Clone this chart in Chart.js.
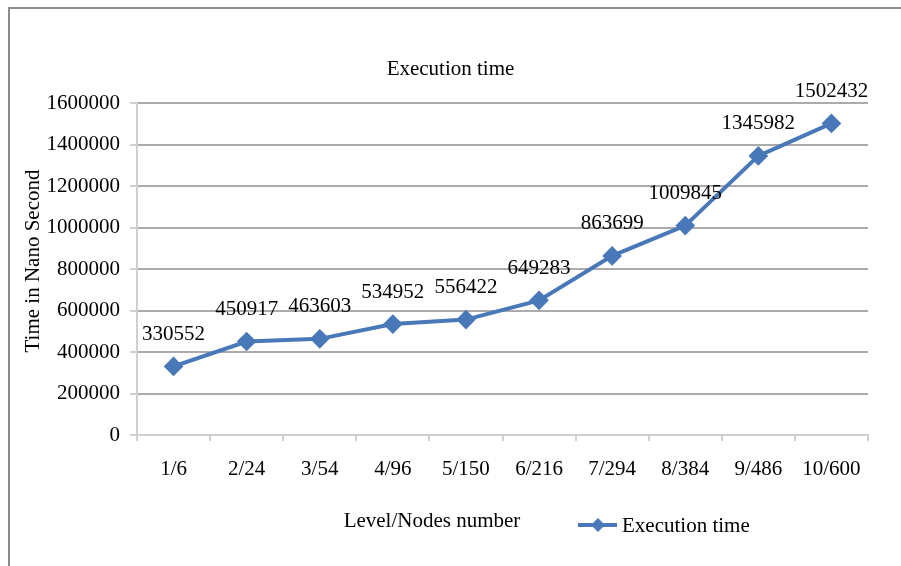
<!DOCTYPE html>
<html>
<head>
<meta charset="utf-8">
<title>Execution time</title>
<script src="https://cdn.jsdelivr.net/npm/chart.js@4.4.1/dist/chart.umd.min.js"></script>
<style>
    html, body { margin: 0; padding: 0; background: #fff; }
    #wrap { position: relative; width: 901px; height: 566px; }
    #frame {
        position: absolute; left: 8px; top: 7px; right: 0; bottom: 0;
        border-left: 2px solid #8c8c8c; border-top: 2px solid #8c8c8c;
        pointer-events: none;
    }
    canvas { position: absolute; left: 0; top: 0; }
</style>
</head>
<body>
<div id="wrap">
    <canvas id="execChart" width="901" height="566"></canvas>
    <div id="frame"></div>
</div>
<script>
// Level/Nodes categories for x-axis
const levelLabels = ['1/6', '2/24', '3/54', '4/96', '5/150', '6/216', '7/294', '8/384', '9/486', '10/600'];

// Execution time in nano seconds
const execTimes = [330552, 450917, 463603, 534952, 556422, 649283, 863699, 1009845, 1345982, 1502432];

// y-axis tick values
const yTicks = [0, 200000, 400000, 600000, 800000, 1000000, 1200000, 1400000, 1600000];

const seriesName = 'Execution time';
const lineColor = '#4878b8';
const serif = '"Liberation Serif", "Times New Roman", serif';

document.addEventListener("DOMContentLoaded", function () {
    const ctx = document.getElementById("execChart").getContext("2d");

    Chart.defaults.font.family = serif;
    Chart.defaults.font.size = 21;
    Chart.defaults.color = '#000';

    // value labels above each point, plus axis titles and legend drawn in Excel style
    const extrasPlugin = {
        id: 'extras',
        afterDatasetsDraw(chart) {
            const c = chart.ctx;
            const meta = chart.getDatasetMeta(0);
            c.save();
            c.font = '21px ' + serif;
            c.fillStyle = '#000';
            c.textAlign = 'center';
            c.textBaseline = 'middle';
            meta.data.forEach((pt, i) => {
                c.fillText(String(chart.data.datasets[0].data[i]), pt.x, pt.y - 32);
            });
            c.restore();
        },
        afterDraw(chart) {
            const c = chart.ctx;
            c.save();
            c.font = '21px ' + serif;
            c.fillStyle = '#000';
            c.textBaseline = 'middle';

            // x-axis title
            c.textAlign = 'center';
            c.fillText('Level/Nodes number', 432, 521);

            // y-axis title
            c.save();
            c.translate(33, 261);
            c.rotate(-Math.PI / 2);
            c.fillText('Time in Nano Second', 0, 0);
            c.restore();

            // legend
            const ds = chart.data.datasets[0];
            c.strokeStyle = ds.borderColor;
            c.lineWidth = 4;
            c.beginPath();
            c.moveTo(578, 525);
            c.lineTo(617, 525);
            c.stroke();
            c.fillStyle = ds.pointBackgroundColor;
            c.beginPath();
            c.moveTo(598, 518);
            c.lineTo(605, 525);
            c.lineTo(598, 532);
            c.lineTo(591, 525);
            c.closePath();
            c.fill();
            c.fillStyle = '#000';
            c.textAlign = 'left';
            c.fillText(ds.label, 622, 526);
            c.restore();
        }
    };

    new Chart(ctx, {
        type: 'line',
        data: {
            labels: levelLabels,
            datasets: [{
                label: seriesName,
                data: execTimes,
                borderColor: lineColor,
                backgroundColor: lineColor,
                pointBackgroundColor: lineColor,
                pointBorderColor: lineColor,
                borderWidth: 4,
                pointStyle: 'rectRot',
                pointRadius: 7,
                pointHoverRadius: 7,
                tension: 0,
                fill: false
            }]
        },
        options: {
            responsive: false,
            animation: false,
            layout: { padding: 0 },
            plugins: {
                legend: { display: false },
                tooltip: { enabled: false },
                title: {
                    display: true,
                    text: 'Execution time',
                    color: '#000',
                    font: { size: 21, weight: 'normal' },
                    padding: { top: 57, bottom: 21 }
                }
            },
            scales: {
                x: {
                    offset: true,
                    grid: {
                        display: true,
                        offset: true,
                        drawOnChartArea: false,
                        drawTicks: true,
                        tickLength: 6,
                        tickColor: '#d0d0d0',
                        lineWidth: 2
                    },
                    border: { display: true, color: '#d0d0d0', width: 2 },
                    ticks: { padding: 16, maxRotation: 0, autoSkip: false },
                    afterFit: s => { s.height = 131; }
                },
                y: {
                    min: 0,
                    max: 1600000,
                    afterBuildTicks: s => { s.ticks = yTicks.map(v => ({ value: v })); },
                    grid: {
                        color: c => (c.tick && c.tick.value === 0) ? '#d0d0d0' : '#ababab',
                        lineWidth: 2,
                        tickLength: 7,
                        tickColor: '#d0d0d0'
                    },
                    border: { display: true, color: '#d0d0d0', width: 2 },
                    ticks: { padding: 10, callback: v => String(v) },
                    afterFit: s => { s.width = 137; }
                },
                yRight: {
                    position: 'right',
                    display: true,
                    grid: { display: false },
                    border: { display: false },
                    ticks: { display: false },
                    afterFit: s => { s.width = 33; }
                }
            }
        },
        plugins: [extrasPlugin]
    });
});
</script>
</body>
</html>
